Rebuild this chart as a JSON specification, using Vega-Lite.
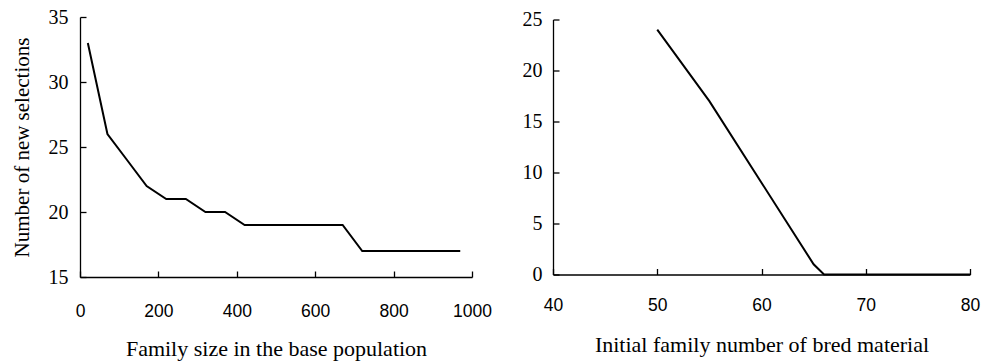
{
  "$schema": "https://vega.github.io/schema/vega-lite/v6.json",
  "background": "white",
  "padding": {"left": 11, "top": 7, "right": 5, "bottom": 5},
  "bounds": "flush",
  "center": true,
  "spacing": 81,
  "config": {
    "view": {"stroke": null},
    "axis": {
      "grid": false,
      "domainColor": "#000",
      "domainWidth": 1.3,
      "tickColor": "#000",
      "tickWidth": 1.3,
      "tickSize": -6,
      "labelColor": "#000",
      "titleColor": "#000",
      "titleFont": "Liberation Serif",
      "titleFontWeight": "normal",
      "titleFontSize": 22
    },
    "axisX": {"labelFont": "Liberation Sans", "labelFontSize": 17.5, "labelPadding": 31, "titlePadding": 19, "labelFlush": false, "format": "d"},
    "axisY": {"labelFont": "Liberation Serif", "labelFontSize": 20, "labelPadding": 18, "labelBaseline": "middle"}
  },
  "hconcat": [
    {
      "width": 392,
      "height": 260,
      "data": {"values": [
        {"size": 20, "n": 33}, {"size": 70, "n": 26}, {"size": 120, "n": 24}, {"size": 170, "n": 22},
        {"size": 220, "n": 21}, {"size": 270, "n": 21}, {"size": 320, "n": 20}, {"size": 370, "n": 20},
        {"size": 420, "n": 19}, {"size": 470, "n": 19}, {"size": 520, "n": 19}, {"size": 570, "n": 19},
        {"size": 620, "n": 19}, {"size": 670, "n": 19}, {"size": 720, "n": 17}, {"size": 770, "n": 17},
        {"size": 820, "n": 17}, {"size": 870, "n": 17}, {"size": 920, "n": 17}, {"size": 970, "n": 17}
      ]},
      "mark": {"type": "line", "color": "#000", "strokeWidth": 2},
      "encoding": {
        "x": {"field": "size", "type": "quantitative", "scale": {"domain": [0, 1000], "nice": false},
              "axis": {"values": [0, 200, 400, 600, 800, 1000], "title": "Family size in the base population"}},
        "y": {"field": "n", "type": "quantitative", "scale": {"domain": [15, 35], "nice": false, "zero": false},
              "axis": {"values": [15, 20, 25, 30, 35], "title": "Number of new selections", "titlePadding": 16, "titleFontSize": 21}}
      }
    },
    {
      "width": 417,
      "height": 255,
      "data": {"values": [
        {"fam": 50, "n": 24}, {"fam": 55, "n": 17}, {"fam": 60, "n": 9}, {"fam": 65, "n": 1},
        {"fam": 66, "n": 0}, {"fam": 70, "n": 0}, {"fam": 75, "n": 0}, {"fam": 80, "n": 0}
      ]},
      "mark": {"type": "line", "color": "#000", "strokeWidth": 2},
      "encoding": {
        "x": {"field": "fam", "type": "quantitative", "scale": {"domain": [40, 80], "nice": false, "zero": false},
              "axis": {"values": [40, 50, 60, 70, 80], "title": "Initial family number of bred material", "labelPadding": 28, "titlePadding": 20}},
        "y": {"field": "n", "type": "quantitative", "scale": {"domain": [0, 25], "nice": false},
              "axis": {"values": [0, 5, 10, 15, 20, 25], "title": null, "labelPadding": 17}}
      }
    }
  ]
}
